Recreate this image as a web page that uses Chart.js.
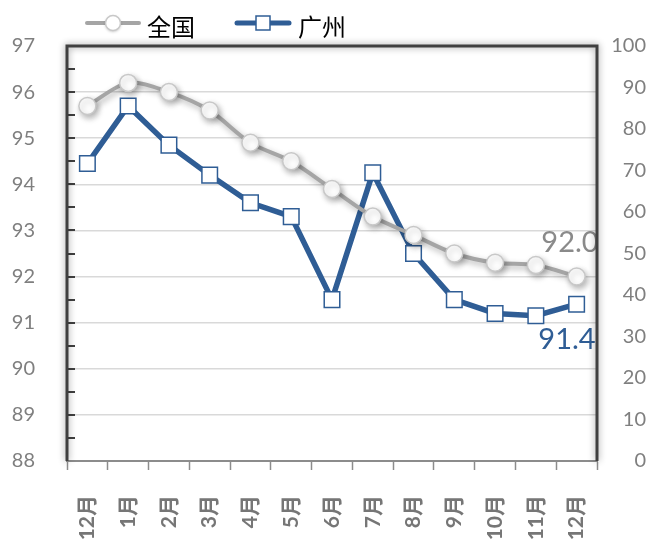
<!DOCTYPE html>
<html>
<head>
<meta charset="utf-8">
<script src="https://cdn.jsdelivr.net/npm/chart.js@4"></script>
<style>
  html, body { margin: 0; padding: 0; background: #fff; }
  canvas { display: block; }
</style>
</head>
<body>
<canvas id="chart" width="646" height="543"></canvas>
<script>
const months = ['12月', '1月', '2月', '3月', '4月', '5月', '6月', '7月', '8月', '9月', '10月', '11月', '12月'];
const national = [95.7, 96.2, 96.0, 95.6, 94.9, 94.5, 93.9, 93.3, 92.9, 92.5, 92.3, 92.25, 92.0];
const guangzhou = [94.45, 95.7, 94.85, 94.2, 93.6, 93.3, 91.5, 94.25, 92.5, 91.5, 91.2, 91.15, 91.4];
const seriesNames = ['全国', '广州'];
const leftRange = [88, 97];
const rightRange = [0, 100];

const grayLine = '#a5a5a5';
const blueLine = '#2f5d95';
const axisText = '#7f7f7f';

// little line+marker pictures for the legend
function legendSymbol(kind) {
    const c = document.createElement('canvas');
    c.width = 58;
    c.height = 24;
    const g = c.getContext('2d');
    g.lineCap = 'round';
    g.beginPath();
    g.moveTo(3, 12);
    g.lineTo(55, 12);
    if (kind === 'circle') {
        g.strokeStyle = grayLine;
        g.lineWidth = 4;
        g.stroke();
        g.shadowColor = 'rgba(0,0,0,0.3)';
        g.shadowBlur = 3;
        g.shadowOffsetY = 1;
        g.beginPath();
        g.arc(29, 12, 7.5, 0, Math.PI * 2);
        g.fillStyle = '#fff';
        g.fill();
        g.shadowColor = 'transparent';
        g.strokeStyle = '#c8c8c8';
        g.lineWidth = 1.5;
        g.stroke();
    } else {
        g.strokeStyle = blueLine;
        g.lineWidth = 5;
        g.stroke();
        g.fillStyle = '#fff';
        g.fillRect(22, 5, 14, 14);
        g.strokeStyle = blueLine;
        g.lineWidth = 1.5;
        g.strokeRect(22, 5, 14, 14);
    }
    return c;
}

const legendSymbols = [legendSymbol('circle'), legendSymbol('rect')];

const framePlugin = {
    id: 'frame',
    beforeDatasetDraw(chart, args) {
        if (args.index === 0) {
            const ctx = chart.ctx;
            ctx.save();
            ctx.shadowColor = 'rgba(0,0,0,0.3)';
            ctx.shadowBlur = 6;
            ctx.shadowOffsetX = 2;
            ctx.shadowOffsetY = 3;
        }
    },
    afterDatasetDraw(chart, args) {
        if (args.index === 0) chart.ctx.restore();
    },
    afterDatasetsDraw(chart) {
        const ctx = chart.ctx;
        const area = chart.chartArea;
        const y = chart.scales.y;

        // end labels
        const m0 = chart.getDatasetMeta(0).data;
        const m1 = chart.getDatasetMeta(1).data;
        const p0 = m0[m0.length - 1];
        const p1 = m1[m1.length - 1];
        ctx.save();
        ctx.font = '29px Lato, "Liberation Sans", sans-serif';
        ctx.textAlign = 'right';
        ctx.textBaseline = 'middle';
        ctx.fillStyle = '#8a8a8a';
        ctx.fillText(national[national.length - 1].toFixed(1), p0.x + 22, p0.y - 34);
        ctx.fillStyle = blueLine;
        ctx.fillText(guangzhou[guangzhou.length - 1].toFixed(1), p1.x + 19, p1.y + 35);
        ctx.restore();

        // inner ticks on the left axis, every half unit
        ctx.save();
        ctx.strokeStyle = '#404040';
        ctx.lineWidth = 2;
        for (let v = leftRange[0] + 0.5; v < leftRange[1]; v += 0.5) {
            const py = Math.round(y.getPixelForValue(v));
            ctx.beginPath();
            ctx.moveTo(area.left, py);
            ctx.lineTo(area.left + 8, py);
            ctx.stroke();
        }
        ctx.restore();

        // dark frame with a soft shadow
        ctx.save();
        ctx.shadowColor = 'rgba(0,0,0,0.45)';
        ctx.shadowBlur = 7;
        ctx.strokeStyle = '#404040';
        ctx.lineWidth = 3;
        ctx.beginPath();
        ctx.moveTo(area.left, area.bottom);
        ctx.lineTo(area.left, area.top);
        ctx.lineTo(area.right, area.top);
        ctx.lineTo(area.right, area.bottom);
        ctx.stroke();
        ctx.restore();
    },
    afterDraw(chart) {
        // legend row above the plot
        const ctx = chart.ctx;
        const symbolX = [113, 263];
        const textX = [147, 298];
        ctx.save();
        ctx.font = '24px "Noto Sans CJK SC"';
        ctx.textAlign = 'left';
        ctx.textBaseline = 'middle';
        ctx.fillStyle = '#000';
        seriesNames.forEach((name, i) => {
            const s = legendSymbols[i];
            ctx.drawImage(s, symbolX[i] - s.width / 2, 23 - s.height / 2);
            ctx.fillText(name, textX[i], 27);
        });
        ctx.restore();
    }
};

new Chart(document.getElementById('chart'), {
    type: 'line',
    data: {
        labels: months,
        datasets: [
            {
                label: seriesNames[0],
                data: national,
                yAxisID: 'y',
                borderColor: grayLine,
                borderWidth: 4,
                tension: 0.3,
                pointStyle: 'circle',
                pointRadius: 8.5,
                pointBackgroundColor: '#fff',
                pointBorderColor: '#c8c8c8',
                pointBorderWidth: 1.5
            },
            {
                label: seriesNames[1],
                data: guangzhou,
                yAxisID: 'y',
                borderColor: blueLine,
                borderWidth: 5.5,
                tension: 0,
                pointStyle: 'rect',
                pointRadius: 11,
                pointBackgroundColor: '#fff',
                pointBorderColor: blueLine,
                pointBorderWidth: 1.5
            }
        ]
    },
    options: {
        responsive: false,
        animation: false,
        layout: { padding: { top: 46, left: 0, right: 0, bottom: 0 } },
        plugins: {
            tooltip: { enabled: false },
            legend: { display: false }
        },
        scales: {
            x: {
                offset: true,
                grid: {
                    offset: true,
                    drawOnChartArea: false,
                    drawTicks: true,
                    tickLength: 9,
                    tickColor: '#8c8c8c',
                    tickWidth: 1.5
                },
                border: { color: '#8c8c8c', width: 2 },
                ticks: {
                    minRotation: 90,
                    maxRotation: 90,
                    padding: 25,
                    color: '#767676',
                    font: { family: 'Lato, "Noto Sans CJK SC"', size: 21, weight: 'bold' }
                },
                afterFit: s => { s.height = 82; }
            },
            y: {
                position: 'left',
                min: leftRange[0],
                max: leftRange[1],
                grid: { color: '#d9d9d9', lineWidth: 1.5, drawTicks: false },
                border: { display: false },
                ticks: {
                    stepSize: 1,
                    padding: 32,
                    color: axisText,
                    font: { family: 'Lato', size: 20 }
                },
                afterFit: s => { s.width = 67; }
            },
            y2: {
                position: 'right',
                min: rightRange[0],
                max: rightRange[1],
                grid: { drawOnChartArea: false, drawTicks: false },
                border: { display: false },
                ticks: {
                    stepSize: 10,
                    padding: 6,
                    crossAlign: 'far',
                    color: axisText,
                    font: { family: 'Lato', size: 20 }
                },
                afterFit: s => { s.width = 49; }
            }
        }
    },
    plugins: [framePlugin]
});
</script>
</body>
</html>
